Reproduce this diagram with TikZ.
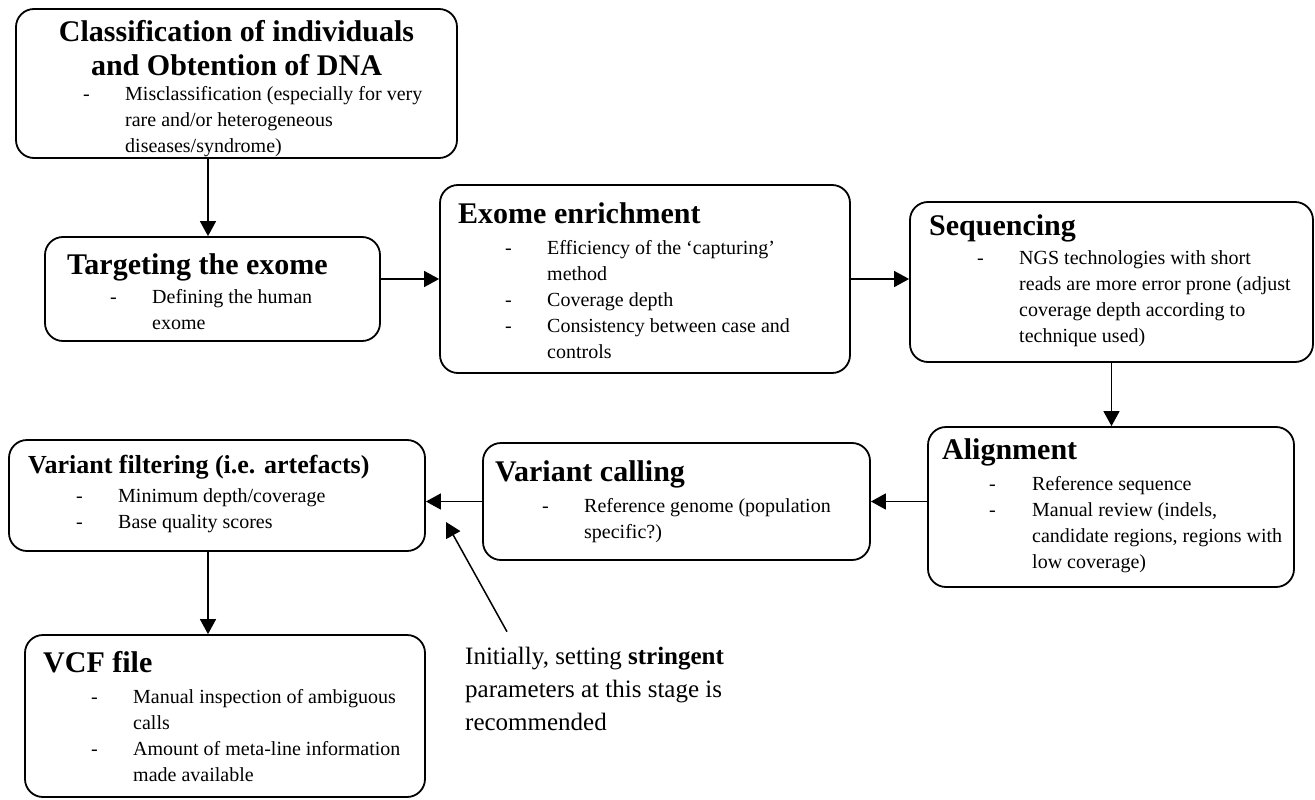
\documentclass[tikz,border=0pt]{standalone}
\usepackage{fontspec}
\setmainfont{Liberation Serif}
\usetikzlibrary{arrows.meta}
\begin{document}
\begin{tikzpicture}[x=1pt,y=-1pt,
  stage/.style={draw, line width=1.8pt, rounded corners=18pt, inner sep=0pt},
  heading/.style={inner sep=0pt, anchor=base west, font=\bfseries\fontsize{30}{33}\selectfont},
  items/.style={inner sep=0pt, anchor=base west, font=\fontsize{20}{26}\selectfont},
  note/.style={inner sep=0pt, anchor=base west, font=\fontsize{25}{33}\selectfont},
  flow/.style={line width=1.5pt, -{Triangle[length=15pt,width=16pt]}},
]
\useasboundingbox (0,0) rectangle (1315,800);

% stage boxes
\node[stage, minimum width=441pt, minimum height=149pt] (cls) at (236.5,83.5) {};
\node[stage, minimum width=335pt, minimum height=104pt] (tgt) at (212.5,289) {};
\node[stage, minimum width=410pt, minimum height=188pt] (exo) at (645,279) {};
\node[stage, minimum width=403pt, minimum height=160pt] (seq) at (1111.5,282) {};
\node[stage, minimum width=366pt, minimum height=160pt] (aln) at (1111,507) {};
\node[stage, minimum width=387pt, minimum height=117pt] (vc) at (676.5,501.5) {};
\node[stage, minimum width=416pt, minimum height=111pt] (vf) at (217,495.5) {};
\node[stage, minimum width=400pt, minimum height=162pt] (vcf) at (225,716) {};

% headings
\node[heading, anchor=base] (clsT) at (236.5,42) {\begin{tabular}[t]{@{}c@{}}Classification of individuals\\and Obtention of DNA\end{tabular}};
\node[heading] (tgtT) at (67,274) {Targeting the exome};
\node[heading] (exoT) at (458,223) {Exome enrichment};
\node[heading] (seqT) at (929,235) {Sequencing};
\node[heading] (alnT) at (942,459) {Alignment};
\node[heading] (vcT) at (495,481) {Variant calling};
\node[heading, font=\bfseries\fontsize{26}{30}\selectfont] (vfT) at (28,473) {Variant filtering (i.e. artefacts)};
\node[heading] (vcfT) at (43,672) {VCF file};

% item lists
\node[items] (clsL) at (83,100) {\begin{tabular}[t]{@{}p{42pt}@{}l@{}}
-&Misclassification (especially for very\\
&rare and/or heterogeneous\\
&diseases/syndrome)\end{tabular}};
\node[items] (tgtL) at (110,303) {\begin{tabular}[t]{@{}p{42pt}@{}l@{}}
-&Defining the human\\
&exome\end{tabular}};
\node[items] (exoL) at (505,254) {\begin{tabular}[t]{@{}p{42pt}@{}l@{}}
-&Efficiency of the ‘capturing’\\
&method\\
-&Coverage depth\\
-&Consistency between case and\\
&controls\end{tabular}};
\node[items] (seqL) at (977,264) {\begin{tabular}[t]{@{}p{42pt}@{}l@{}}
-&NGS technologies with short\\
&reads are more error prone (adjust\\
&coverage depth according to\\
&technique used)\end{tabular}};
\node[items] (alnL) at (989,490) {\begin{tabular}[t]{@{}p{43pt}@{}l@{}}
-&Reference sequence\\
-&Manual review (indels,\\
&candidate regions, regions with\\
&low coverage)\end{tabular}};
\node[items] (vcL) at (542,512) {\begin{tabular}[t]{@{}p{42pt}@{}l@{}}
-&Reference genome (population\\
&specific?)\end{tabular}};
\node[items] (vfL) at (76,502) {\begin{tabular}[t]{@{}p{42pt}@{}l@{}}
-&Minimum depth/coverage\\
-&Base quality scores\end{tabular}};
\node[items] (vcfL) at (91,703) {\begin{tabular}[t]{@{}p{42pt}@{}l@{}}
-&Manual inspection of ambiguous\\
&calls\\
-&Amount of meta-line information\\
&made available\end{tabular}};

% annotation
\node[note] (hint) at (465,664) {\begin{tabular}[t]{@{}l@{}}Initially, setting \textbf{stringent}\\
parameters at this stage is\\
recommended\end{tabular}};
\coordinate (hintTip) at (446,522);

% connectors
\draw[flow] ([xshift=-4.5pt]tgt.north |- cls.south) -- ([xshift=-4.5pt]tgt.north);
\draw[flow] (tgt.east |- exo.west) -- (exo.west);
\draw[flow] (exo.east) -- (exo.east -| seq.west);
\draw[flow] (seq.south) -- (seq.south |- aln.north);
\draw[flow] (aln.west |- vc.east) -- (vc.east);
\draw[flow] (vc.west) -- (vc.west -| vf.east);
\draw[flow] ([xshift=-9pt]vf.south) -- ([xshift=-9pt]vf.south |- vcf.north);
\draw[flow] ([xshift=42pt,yshift=9pt]hint.north west) -- (hintTip);
\end{tikzpicture}
\end{document}
